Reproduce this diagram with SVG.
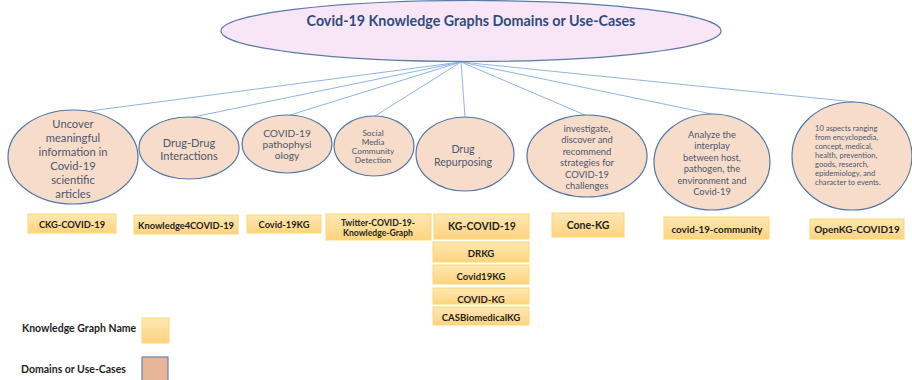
<svg xmlns="http://www.w3.org/2000/svg" width="912" height="380" viewBox="0 0 912 380">
<defs>
<linearGradient id="kgfill" x1="0" y1="0" x2="0" y2="1">
<stop offset="0" stop-color="#FFE7B3"/>
<stop offset="1" stop-color="#FDD47E"/>
</linearGradient>
<style>
.dom{fill:#F8DCCA;stroke:#4F76A8;stroke-width:1.2}
.dt{font-family:Lato,"Liberation Sans",sans-serif;fill:#4A5870;text-anchor:middle}
.kg{fill:url(#kgfill);stroke:#FBD874;stroke-width:1}
.kt{font-family:Lato,"Liberation Sans",sans-serif;font-weight:bold;fill:#1E1E1E;text-anchor:middle}
.conn line{stroke:#8EB4E3;stroke-width:1}
.lg{font-family:Lato,"Liberation Sans",sans-serif;font-weight:bold;fill:#1E1E1E;font-size:10.5px}
</style>
</defs>
<rect width="912" height="380" fill="#FFFFFF"/>
<g id="connectors" class="conn">
<line x1="461" y1="62" x2="90" y2="111"/>
<line x1="461" y1="62" x2="193" y2="117"/>
<line x1="461" y1="62" x2="290" y2="115"/>
<line x1="461" y1="62" x2="375" y2="116"/>
<line x1="461" y1="62" x2="465" y2="117"/>
<line x1="461" y1="62" x2="585" y2="115"/>
<line x1="461" y1="62" x2="712" y2="114"/>
<line x1="461" y1="62" x2="855" y2="102"/>
</g>
<g id="root">
<ellipse cx="471" cy="31" rx="250" ry="30.5" fill="#F8E6F6" stroke="#5A7AA6" stroke-width="1.2"/>
<text x="471" y="26" font-family="Lato,'Liberation Sans',sans-serif" font-weight="bold" font-size="14.3" fill="#2F4C7C" text-anchor="middle">Covid-19 Knowledge Graphs Domains or Use-Cases</text>
</g>
<g id="d1">
<ellipse class="dom" cx="73" cy="157" rx="65" ry="47"/>
<text class="dt" font-size="11.2"><tspan x="73" y="128">Uncover</tspan><tspan x="73" y="142">meaningful</tspan><tspan x="73" y="156">information in</tspan><tspan x="73" y="170">Covid-19</tspan><tspan x="73" y="184">scientific</tspan><tspan x="73" y="198">articles</tspan></text>
</g>
<g id="d2">
<ellipse class="dom" cx="189" cy="148" rx="50" ry="31"/>
<text class="dt" font-size="11"><tspan x="189" y="147">Drug-Drug</tspan><tspan x="189" y="160">Interactions</tspan></text>
</g>
<g id="d3">
<ellipse class="dom" cx="287" cy="144" rx="45" ry="29"/>
<text class="dt" font-size="10.2"><tspan x="287" y="137">COVID-19</tspan><tspan x="287" y="148">pathophysi</tspan><tspan x="287" y="159">ology</tspan></text>
</g>
<g id="d4">
<ellipse class="dom" cx="374" cy="146" rx="40" ry="30"/>
<text class="dt" font-size="8.3"><tspan x="373" y="136">Social</tspan><tspan x="373" y="145">Media</tspan><tspan x="373" y="154">Community</tspan><tspan x="373" y="162.5">Detection</tspan></text>
</g>
<g id="d5">
<ellipse class="dom" cx="465" cy="154" rx="49" ry="37"/>
<text class="dt" font-size="10.6"><tspan x="463" y="153">Drug</tspan><tspan x="463" y="166">Repurposing</tspan></text>
</g>
<g id="d6">
<ellipse class="dom" cx="587" cy="156" rx="60" ry="41"/>
<text class="dt" font-size="9.4"><tspan x="587" y="131.5">investigate,</tspan><tspan x="587" y="143">discover and</tspan><tspan x="587" y="154.5">recommend</tspan><tspan x="587" y="166">strategies for</tspan><tspan x="587" y="177.5">COVID-19</tspan><tspan x="587" y="189">challenges</tspan></text>
</g>
<g id="d7">
<ellipse class="dom" cx="712" cy="162" rx="58" ry="48"/>
<text class="dt" font-size="9.3"><tspan x="712" y="137.5">Analyze the</tspan><tspan x="712" y="149">interplay</tspan><tspan x="712" y="160.5">between host,</tspan><tspan x="712" y="172">pathogen, the</tspan><tspan x="712" y="183.5">environment and</tspan><tspan x="712" y="195">Covid-19</tspan></text>
</g>
<g id="d8">
<ellipse class="dom" cx="852" cy="156" rx="60" ry="54"/>
<text class="dt" font-size="7.6" style="text-anchor:start"><tspan x="815" y="131">10 aspects ranging</tspan><tspan x="815" y="140">from encyclopedia,</tspan><tspan x="815" y="149">concept, medical,</tspan><tspan x="815" y="158">health, prevention,</tspan><tspan x="815" y="167">goods, research,</tspan><tspan x="815" y="176">epidemiology, and</tspan><tspan x="815" y="185">character to events.</tspan></text>
</g>
<g id="kg1">
<rect class="kg" x="28" y="214" width="88" height="19"/>
<text class="kt" x="72" y="227.5" font-size="9.3">CKG-COVID-19</text>
</g>
<g id="kg2">
<rect class="kg" x="134" y="215" width="104" height="19"/>
<text class="kt" x="186" y="228.5" font-size="9.3">Knowledge4COVID-19</text>
</g>
<g id="kg3">
<rect class="kg" x="247" y="215" width="74" height="18"/>
<text class="kt" x="284" y="228" font-size="9.3">Covid-19KG</text>
</g>
<g id="kg4">
<rect class="kg" x="326" y="214" width="105" height="26"/>
<text class="kt" font-size="8.6"><tspan x="378" y="226">Twitter-COVID-19-</tspan><tspan x="378" y="236">Knowledge-Graph</tspan></text>
</g>
<g id="kg5">
<rect class="kg" x="434" y="214" width="95" height="25"/>
<text class="kt" x="482" y="230" font-size="10.5">KG-COVID-19</text>
</g>
<g id="kg6">
<rect class="kg" x="433" y="242" width="96" height="20"/>
<text class="kt" x="481" y="256.5" font-size="9.6">DRKG</text>
</g>
<g id="kg7">
<rect class="kg" x="433" y="265" width="96" height="19"/>
<text class="kt" x="481" y="279.5" font-size="9.6">Covid19KG</text>
</g>
<g id="kg8">
<rect class="kg" x="433" y="288" width="96" height="16"/>
<text class="kt" x="481" y="302.5" font-size="9.6">COVID-KG</text>
</g>
<g id="kg9">
<rect class="kg" x="433" y="307" width="96" height="18"/>
<text class="kt" x="481" y="321" font-size="9.6">CASBiomedicalKG</text>
</g>
<g id="kg10">
<rect class="kg" x="552" y="213" width="72" height="24"/>
<text class="kt" x="588" y="228.5" font-size="10.5">Cone-KG</text>
</g>
<g id="kg11">
<rect class="kg" x="664" y="217" width="105" height="22"/>
<text class="kt" x="717" y="232.5" font-size="9.8">covid-19-community</text>
</g>
<g id="kg12">
<rect class="kg" x="810" y="219" width="94" height="20"/>
<text class="kt" x="857" y="232.5" font-size="10">OpenKG-COVID19</text>
</g>
<g id="legend">
<text class="lg" x="22" y="332">Knowledge Graph Name</text>
<rect x="142" y="318" width="27" height="25" fill="url(#kgfill)" stroke="#FBD874"/>
<text class="lg" x="21" y="373">Domains or Use-Cases</text>
<rect x="142" y="357" width="26" height="26" fill="#E6B696" stroke="#6A84A8" stroke-width="1.2"/>
</g>
</svg>
